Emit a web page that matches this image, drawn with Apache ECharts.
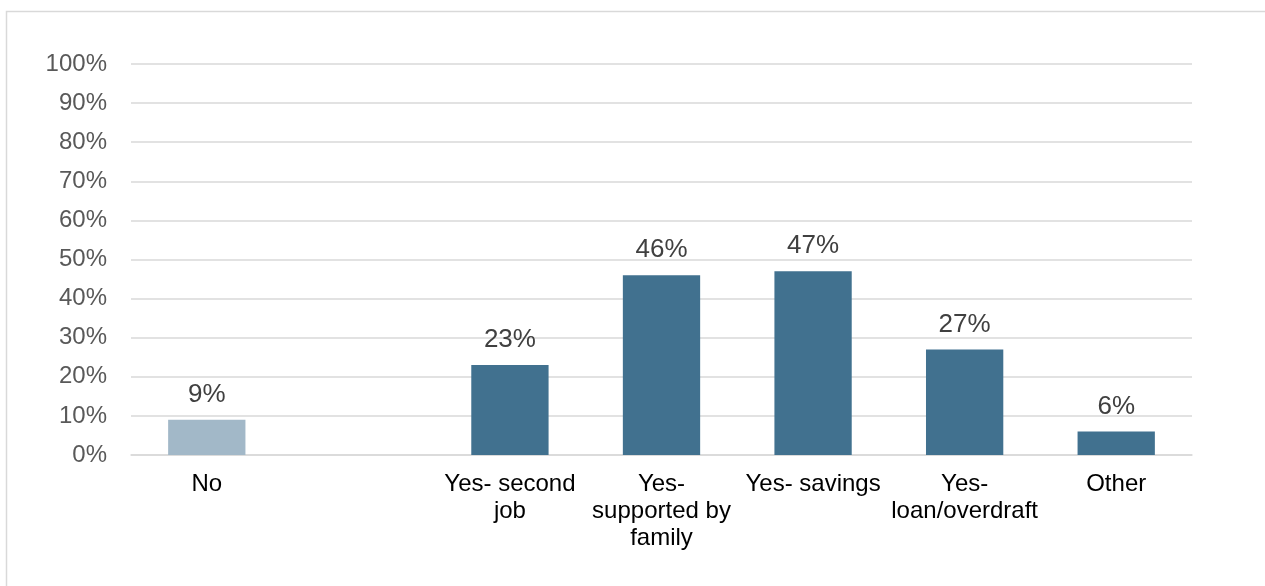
<!DOCTYPE html>
<html>
<head>
<meta charset="utf-8">
<script src="https://cdn.jsdelivr.net/npm/echarts@6/dist/echarts.min.js"></script>
<style>
  html, body { margin: 0; padding: 0; background: #ffffff; }
  #chart { width: 1265px; height: 586px; }
</style>
</head>
<body>
<div id="chart"></div>
<script>
// Responses: whether and how the shortfall was covered
const categories = ['No', '', 'Yes- second\njob', 'Yes-\nsupported by\nfamily', 'Yes- savings', 'Yes-\nloan/overdraft', 'Other'];
const values = [9, null, 23, 46, 47, 27, 6];
const yTicks = [0, 10, 20, 30, 40, 50, 60, 70, 80, 90, 100];

const FONT = '"Liberation Sans", Arial, sans-serif';
const chart = echarts.init(document.getElementById('chart'), null, { renderer: 'canvas' });

const seriesData = values.map((v, i) => ({
  value: v,
  itemStyle: { color: i === 0 ? '#A2B8C8' : '#41718F' }
}));

chart.setOption({
  animation: false,
  backgroundColor: '#ffffff',
  graphic: [{
    type: 'rect',
    shape: { x: 6.5, y: 11.5, width: 1400, height: 700 },
    style: { fill: 'none', stroke: '#D9D9D9', lineWidth: 1.5 },
    silent: true
  }],
  grid: { left: 131, right: 73, top: 64, bottom: 131, containLabel: false },
  xAxis: {
    type: 'category',
    data: categories,
    axisLine: { show: true, lineStyle: { color: '#D9D9D9', width: 1.5 } },
    axisTick: { show: false },
    axisLabel: {
      interval: 0,
      color: '#000000',
      fontFamily: FONT,
      fontSize: 24,
      lineHeight: 27,
      margin: 16,
      align: 'center'
    }
  },
  yAxis: {
    type: 'value',
    min: 0,
    max: 100,
    interval: 10,
    axisLine: { show: false },
    axisTick: { show: false },
    splitLine: { lineStyle: { color: '#D9D9D9', width: 1.5 } },
    axisLabel: {
      color: '#595959',
      fontFamily: FONT,
      fontSize: 24,
      margin: 24,
      padding: [4, 0, 0, 0],
      customValues: yTicks,
      formatter: v => v + '%'
    }
  },
  series: [{
    type: 'bar',
    data: seriesData,
    barWidth: '51%',
    label: {
      show: true,
      position: 'top',
      distance: 12,
      color: '#404040',
      fontFamily: FONT,
      fontSize: 26,
      formatter: p => p.value + '%'
    }
  }]
});
</script>
</body>
</html>
